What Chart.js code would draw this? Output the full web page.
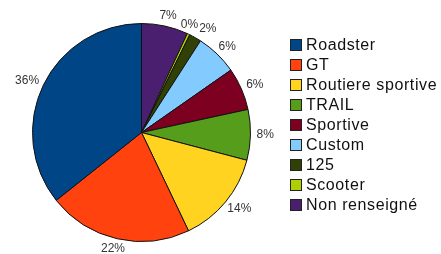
<!DOCTYPE html>
<html>
<head>
<meta charset="utf-8">
<script src="https://cdn.jsdelivr.net/npm/chart.js@4/dist/chart.umd.min.js"></script>
<style>
  html, body { margin: 0; padding: 0; background: #fff; }
</style>
</head>
<body>
<canvas id="pie" width="441" height="254"></canvas>
<script>
// legend order (top to bottom)
const categories = ["Roadster", "GT", "Routiere sportive", "TRAIL", "Sportive", "Custom", "125", "Scooter", "Non renseigné"];
const shares = [35.7, 21.4, 13.8, 7.5, 6.3, 6.2, 1.8, 0.4, 6.9];
const pctLabels = ["36%", "22%", "14%", "8%", "6%", "6%", "2%", "0%", "7%"];
const colors = ["#004586", "#ff420e", "#ffd320", "#579d1c", "#7e0021", "#83caff", "#314004", "#aecf00", "#4b1f6f"];

// the pie runs clockwise from the top in reverse legend order
const rev = a => a.slice().reverse();

const outsideLabels = {
    id: "outsideLabels",
    afterDatasetsDraw(chart) {
        const ctx = chart.ctx;
        const meta = chart.getDatasetMeta(0);
        const lbls = rev(pctLabels);
        ctx.save();
        ctx.font = "12px 'Liberation Sans', Arial, sans-serif";
        ctx.fillStyle = "#333";
        ctx.textAlign = "center";
        ctx.textBaseline = "middle";
        const boxes = meta.data.map((arc, i) => {
            const p = arc.getProps(["x", "y", "startAngle", "endAngle", "outerRadius"], true);
            const mid = (p.startAngle + p.endAngle) / 2;
            const dx = Math.cos(mid), dy = Math.sin(mid);
            const w = ctx.measureText(lbls[i]).width;
            const r = p.outerRadius + 6;
            return {
                text: lbls[i], w: w, h: 9,
                x: p.x + dx * r + dx * w / 2,
                y: p.y + dy * r + dy * 4.5
            };
        });
        // push neighbours apart when they overlap (tiny slices)
        for (let i = 1; i < boxes.length; i++) {
            const a = boxes[i - 1], b = boxes[i];
            const ox = (a.w + b.w) / 2 + 1 - Math.abs(b.x - a.x);
            const oy = (a.h + b.h) / 2 - Math.abs(b.y - a.y);
            if (ox > 0 && oy > 0) {
                a.x -= ox / 2;
                b.x += ox / 2;
            }
        }
        boxes.forEach(b => ctx.fillText(b.text, b.x, b.y));
        ctx.restore();
    }
};

const sideLegend = {
    id: "sideLegend",
    afterDraw(chart) {
        const ctx = chart.ctx;
        ctx.save();
        ctx.font = "16px 'Liberation Sans', Arial, sans-serif";
        ctx.letterSpacing = "0.6px";
        ctx.textBaseline = "middle";
        categories.forEach((name, i) => {
            const y = 45 + i * 20;
            ctx.fillStyle = colors[i];
            ctx.fillRect(290.5, y - 5.5, 11, 11);
            ctx.strokeStyle = "#222";
            ctx.lineWidth = 1;
            ctx.strokeRect(290.5, y - 5.5, 11, 11);
            ctx.fillStyle = "#111";
            ctx.fillText(name, 306, y + 1);
        });
        ctx.restore();
    }
};

new Chart(document.getElementById("pie"), {
    type: "pie",
    data: {
        labels: rev(categories),
        datasets: [{
            data: rev(shares),
            backgroundColor: rev(colors),
            borderColor: "#111",
            borderWidth: 1
        }]
    },
    options: {
        responsive: false,
        animation: false,
        layout: { padding: { left: 32, right: 190, top: 23, bottom: 12 } },
        plugins: {
            legend: { display: false },
            tooltip: { enabled: false }
        }
    },
    plugins: [outsideLabels, sideLegend]
});
</script>
</body>
</html>
